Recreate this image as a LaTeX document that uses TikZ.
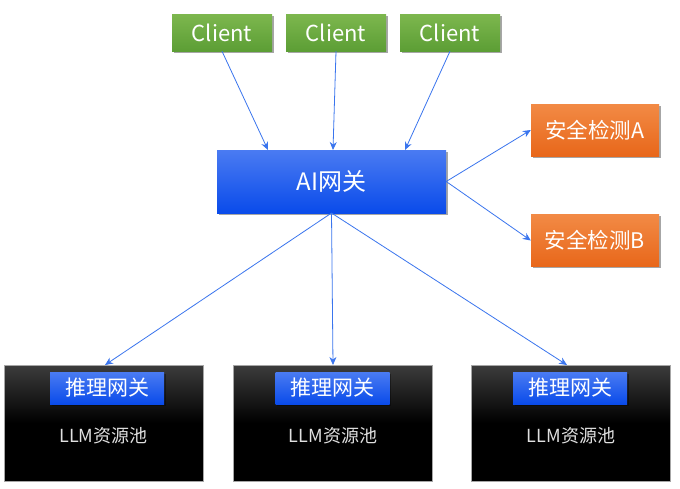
\documentclass[tikz,border=0pt]{standalone}
\usepackage{fontspec}
\setmainfont{Noto Sans CJK SC}
\usetikzlibrary{shadows,arrows.meta}
\definecolor{arrowblue}{HTML}{3A75EE}
\definecolor{gtop}{HTML}{7DB74E}
\definecolor{gbot}{HTML}{5C9E35}
\definecolor{btop}{HTML}{4A7BF2}
\definecolor{bbot}{HTML}{0A4BEA}
\definecolor{otop}{HTML}{F28A45}
\definecolor{obot}{HTML}{E8671A}
\definecolor{ktop}{HTML}{3C3C3C}
\tikzset{
  shadowed/.style={drop shadow={shadow xshift=1.5pt,shadow yshift=-1.5pt,opacity=0.35,fill=black}},
  clientbox/.style={shadowed,top color=gtop,bottom color=gbot,draw=none,minimum width=100pt,minimum height=37pt,text=white,font=\fontsize{22}{24}\selectfont,inner sep=0pt},
  gwbox/.style={shadowed,top color=btop,bottom color=bbot,draw=none,minimum width=229pt,minimum height=63pt,text=white,font=\fontsize{24}{26}\selectfont,inner sep=0pt},
  safebox/.style={shadowed,top color=otop,bottom color=obot,draw=none,minimum width=128pt,minimum height=52pt,text=white,font=\fontsize{21.5}{23}\selectfont,inner sep=0pt},
  poolbox/.style={top color=ktop,bottom color=black,middle color=black,draw=gray!70,line width=0.6pt,minimum width=199pt,minimum height=116pt,inner sep=0pt},
  infbox/.style={shadowed,top color=btop,bottom color=bbot,draw=none,minimum width=114pt,minimum height=32pt,text=white,font=\fontsize{21}{23}\selectfont,inner sep=0pt},
  pooltext/.style={text=white!88!black,font=\fontsize{18}{20}\selectfont,inner sep=0pt},
  conn/.style={draw=arrowblue,line width=0.8pt,-{Stealth[length=8pt,width=7pt]}}
}
\begin{document}
\begin{tikzpicture}[x=1pt,y=-1pt]
\useasboundingbox (0,0) rectangle (680,488);
\fill[white] (0,0) rectangle (680,488);
\node[clientbox] (c1) at (222,32.5) {Client};
\node[clientbox] (c2) at (336,32.5) {Client};
\node[clientbox] (c3) at (450,32.5) {Client};
\node[gwbox] (gw) at (331.5,181.5) {AI网关};
\node[safebox] (sa) at (595,130) {安全检测A};
\node[safebox] (sb) at (595,240.5) {安全检测B};
\node[poolbox] (p1) at (103.5,423) {};
\node[poolbox] (p2) at (333,423) {};
\node[poolbox] (p3) at (571,423) {};
\node[infbox] (i1) at (107,388) {推理网关};
\node[infbox] (i2) at (332.5,388) {推理网关};
\node[infbox] (i3) at (570,388) {推理网关};
\node[pooltext] (t1) at (103.5,436) {LLM资源池};
\node[pooltext] (t2) at (333,436) {LLM资源池};
\node[pooltext] (t3) at (571,436) {LLM资源池};
\coordinate (gwtop1) at (268,150);
\coordinate (gwtop2) at (333,150);
\coordinate (gwtop3) at (405,150);
\draw[conn] (c1.south) -- (gwtop1);
\draw[conn] (c2.south) -- (gwtop2);
\draw[conn] (c3.south) -- (gwtop3);
\draw[conn] (gw.east) -- (sa.west);
\draw[conn] (gw.east) -- (sb.west);
\coordinate (gwb) at (331.5,213);
\coordinate (p1t) at (105,365);
\coordinate (p2t) at (333,365);
\coordinate (p3t) at (567,365);
\draw[conn] (gwb) -- (p1t);
\draw[conn] (gwb) -- (p2t);
\draw[conn] (gwb) -- (p3t);
\end{tikzpicture}
\end{document}
